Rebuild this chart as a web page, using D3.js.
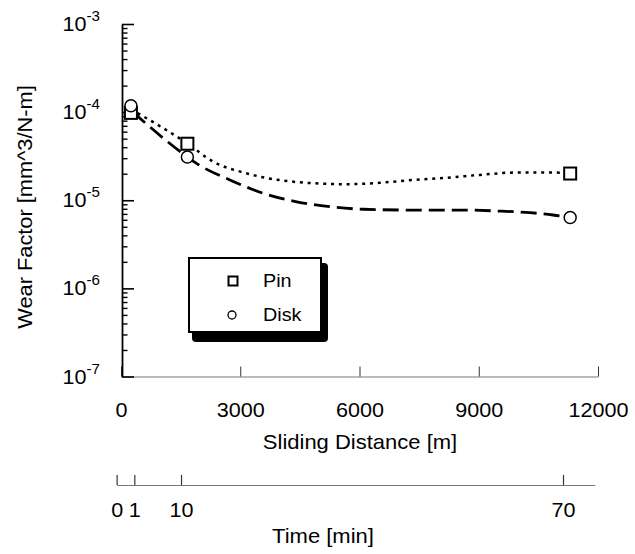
<!DOCTYPE html>
<html><head><meta charset="utf-8">
<script src="https://cdn.jsdelivr.net/npm/d3@7"></script>
<style>
html,body{margin:0;padding:0;background:#fff;}
text{font-family:"Liberation Sans",Arial,Helvetica,sans-serif;fill:#000;}
</style></head>
<body><svg id="chart" width="635" height="554"></svg>
<script>
// ---- data ----
const seriesNames = ["Pin", "Disk"];
const distance = [250, 1670, 11300];            // sliding distance [m]
const pinWear  = [9.8e-5, 4.38e-5, 2.01e-5];     // mm^3/N-m
const diskWear = [1.18e-4, 3.1e-5, 6.37e-6];

// fitted curves
const pinFitDist  = [250, 1670, 2320, 3160, 4830, 5680, 6520, 7350, 8190, 9030, 9870, 10710, 11250];
const pinFitWear  = [1.08e-4, 4.4e-5, 2.74e-5, 2.02e-5, 1.56e-5, 1.52e-5, 1.58e-5, 1.70e-5, 1.80e-5, 1.94e-5, 2.06e-5, 2.07e-5, 2.04e-5];
const diskFitDist = [300, 1670, 1900, 2740, 3580, 4420, 5260, 6090, 7350, 8600, 9450, 10290, 10870, 11250];
const diskFitWear = [1.0e-4, 3.1e-5, 2.62e-5, 1.70e-5, 1.20e-5, 9.6e-6, 8.46e-6, 7.9e-6, 7.74e-6, 7.74e-6, 7.55e-6, 7.22e-6, 6.8e-6, 6.41e-6];

const xTicks = [0, 3000, 6000, 9000, 12000];
const yTicks = [1e-7, 1e-6, 1e-5, 1e-4, 1e-3];
const timeTicks = [0, 1, 10, 70];
const timeTickDistance = [-110, 335, 1510, 11120];  // distance equivalent of time ticks on the secondary axis
const timeAxisEnd = [75, 11920];

const xTitle = "Sliding Distance [m]";
const yTitle = "Wear Factor [mm^3/N-m]";
const tTitle = "Time [min]";

// ---- layout ----
const svg = d3.select("#chart");
const x = d3.scaleLinear().domain([0, 12000]).range([121, 598]);
const y = d3.scaleLog().domain([1e-7, 1e-3]).range([376.5, 24]);
const tScale = d3.scaleLinear()
  .domain(timeTicks.concat([timeAxisEnd[0]]))
  .range(timeTickDistance.concat([timeAxisEnd[1]]).map(d => x(d)));

const SX = 1.08;

// x axis (sliding distance)
const xAxisG = svg.append("g").attr("transform", "translate(0,376.5)")
  .call(d3.axisBottom(x).tickValues(xTicks).tickSizeInner(-10).tickSizeOuter(0).tickPadding(26).tickFormat(d3.format("d")));
xAxisG.select(".domain").attr("stroke", "#777").attr("stroke-width", 1);
xAxisG.selectAll(".tick line").attr("stroke", "#333").attr("stroke-width", 1);
xAxisG.selectAll(".tick text").style("font-size", "20px").attr("transform", `scale(${SX},1)`);

// time axis
const tAxisG = svg.append("g").attr("transform", "translate(0,485)")
  .call(d3.axisBottom(tScale).tickValues(timeTicks).tickSizeInner(-10).tickSizeOuter(0).tickPadding(17.5).tickFormat(d3.format("d")));
tAxisG.select(".domain").attr("stroke", "#777").attr("stroke-width", 1);
tAxisG.selectAll(".tick line").attr("stroke", "#333").attr("stroke-width", 1.2);
tAxisG.selectAll(".tick text").style("font-size", "20px").attr("transform", `scale(${SX},1)`);

// y axis (log) with inward ticks
const minorTicks = [];
for (let e = -7; e < -3; e++) for (let k = 2; k <= 9; k++) minorTicks.push(k * Math.pow(10, e));
const yMinorG = svg.append("g").attr("transform", "translate(122,0)")
  .call(d3.axisRight(y).tickValues(minorTicks).tickSizeInner(5.5).tickSizeOuter(0).tickFormat(""));
yMinorG.select(".domain").remove();
yMinorG.selectAll(".tick line").attr("stroke", "#000").attr("stroke-width", 1.4);
const yMajorG = svg.append("g").attr("transform", "translate(122,0)")
  .call(d3.axisRight(y).tickValues(yTicks).tickSizeInner(12).tickSizeOuter(0).tickFormat(""));
yMajorG.select(".domain").attr("stroke", "#000").attr("stroke-width", 1.8);
yMajorG.selectAll(".tick line").attr("stroke", "#000").attr("stroke-width", 1.6);

// y tick labels 10^n
yTicks.forEach(v => {
  const t = svg.append("text")
    .attr("transform", `translate(100,${y(v) + 7}) scale(${SX},1)`)
    .attr("text-anchor", "end").style("font-size", "20px");
  t.append("tspan").text("10");
  t.append("tspan").attr("dy", -10).style("font-size", "14px").text(String(Math.round(Math.log10(v))));
});

// titles
function stext(px, py, str, size, sx, rot) {
  return svg.append("text")
    .attr("transform", `translate(${px},${py})${rot ? ` rotate(${rot})` : ""} scale(${sx},1)`)
    .attr("text-anchor", "middle").style("font-size", size + "px").text(str);
}
stext(360, 449, xTitle, 20, 1.1);
stext(323, 543, tTitle, 20, 1.1);
stext(32, 207, yTitle, 20, 1.09, -90);

// fitted curves
const line = d3.line().x(d => x(d[0])).y(d => y(d[1])).curve(d3.curveMonotoneX);
svg.append("path").datum(pinFitDist.map((d, i) => [d, pinFitWear[i]]))
  .attr("d", line).attr("fill", "none").attr("stroke", "#000")
  .attr("stroke-width", 2.5).attr("stroke-dasharray", "3,4.8");
svg.append("path").datum(diskFitDist.map((d, i) => [d, diskFitWear[i]]))
  .attr("d", line).attr("fill", "none").attr("stroke", "#000")
  .attr("stroke-width", 2.8).attr("stroke-dasharray", "16,7");

// markers
svg.selectAll("rect.pin").data(distance.map((d, i) => [d, pinWear[i]])).enter()
  .append("rect").attr("class", "pin")
  .attr("x", d => x(d[0]) - 6).attr("y", d => y(d[1]) - 6)
  .attr("width", 12).attr("height", 12)
  .attr("fill", "#fff").attr("stroke", "#000").attr("stroke-width", 2);
svg.selectAll("circle.disk").data(distance.map((d, i) => [d, diskWear[i]])).enter()
  .append("circle").attr("class", "disk")
  .attr("cx", d => x(d[0])).attr("cy", d => y(d[1])).attr("r", 6)
  .attr("fill", "#fff").attr("stroke", "#000").attr("stroke-width", 1.5);

// legend
const lg = svg.append("g");
lg.append("rect").attr("x", 192).attr("y", 263).attr("width", 136).attr("height", 79).attr("rx", 4).attr("fill", "#000");
lg.append("rect").attr("x", 189).attr("y", 258).attr("width", 132).attr("height", 74).attr("fill", "#fff").attr("stroke", "#000").attr("stroke-width", 2);
lg.append("rect").attr("x", 228.5).attr("y", 276.5).attr("width", 9).attr("height", 9).attr("fill", "#fff").attr("stroke", "#000").attr("stroke-width", 2);
lg.append("circle").attr("cx", 232).attr("cy", 315).attr("r", 4).attr("fill", "#fff").attr("stroke", "#000").attr("stroke-width", 1.3);
seriesNames.forEach((s, i) => {
  lg.append("text").attr("transform", `translate(263,${287 + i * 34}) scale(1.1,1)`)
    .style("font-size", "18px").text(s);
});
</script></body></html>
